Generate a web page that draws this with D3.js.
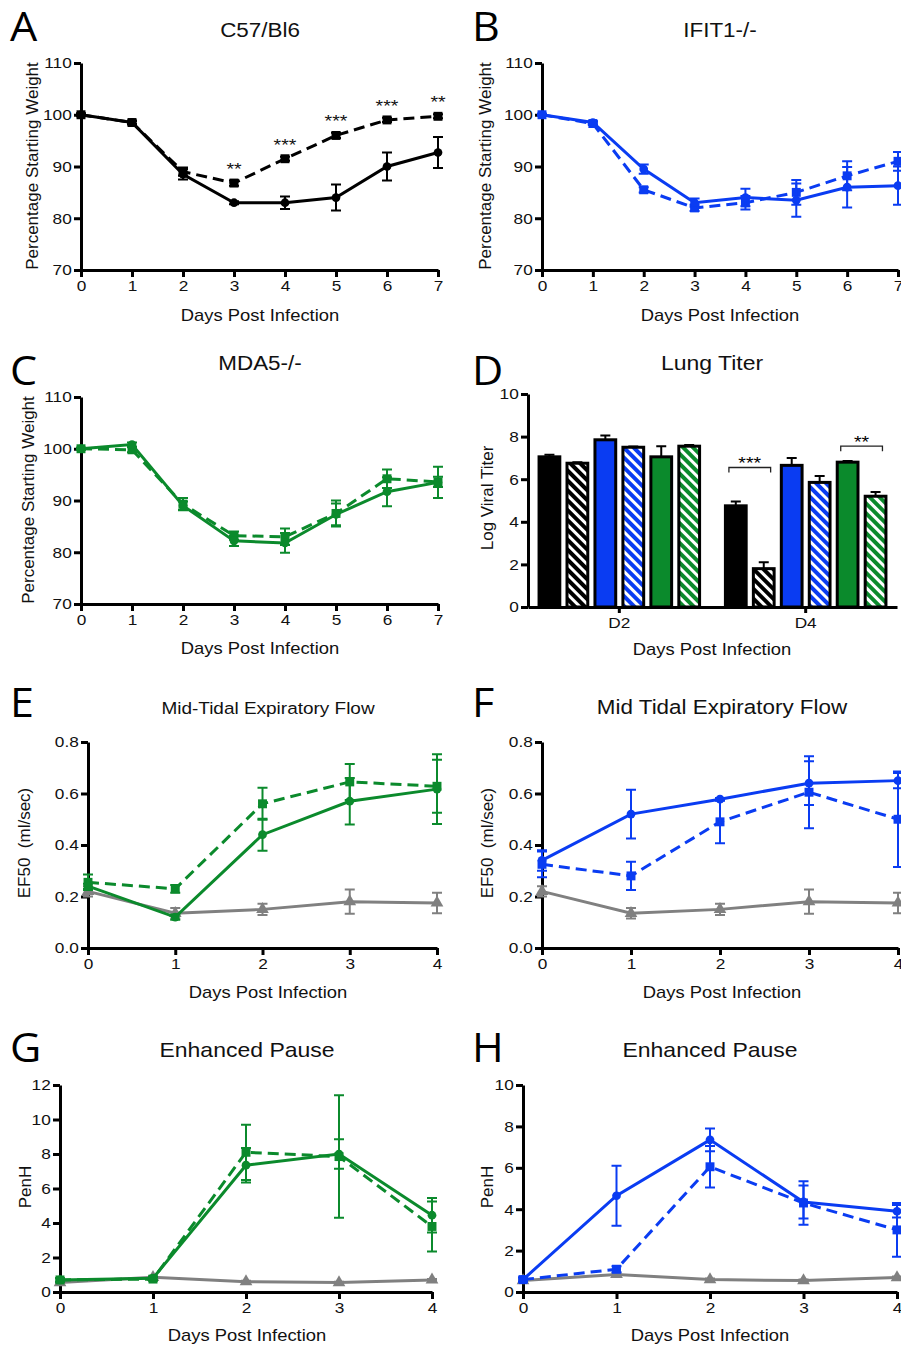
<!DOCTYPE html>
<html>
<head>
<meta charset="utf-8">
<script src="https://cdn.jsdelivr.net/npm/d3@7"></script>
<style>
  body { margin: 0; background: #fff; }
  svg { display: block; font-family: "Liberation Sans", Arial, sans-serif; }
</style>
</head>
<body>
<svg id="fig" width="901" height="1346"></svg>
<script>
// ---- data ----
const days7 = [0, 1, 2, 3, 4, 5, 6, 7];
const days4 = [0, 1, 2, 3, 4];

// A: C57/Bl6 weight
const aSolid = [100, 98.5, 88.5, 83, 83, 84, 90, 92.7];
const aSolidErr = [0.3, 0.4, 1.0, 0.3, 1.2, 2.5, 2.7, 3.0];
const aDash = [100, 98.5, 89, 86.8, 91.5, 96, 99, 99.7];
const aDashErr = [0.2, 0.3, 0.8, 0.5, 0.4, 0.5, 0.4, 0.4];
const aStars = ["", "", "", "**", "***", "***", "***", "**"];

// B: IFIT1-/- weight
const bSolid = [100, 98.5, 89.5, 83, 84, 83.5, 86, 86.3];
const bSolidErr = [0.2, 0.3, 0.9, 0.8, 1.7, 3.2, 3.9, 3.7];
const bDash = [100, 98.3, 85.5, 82, 83, 85, 88.2, 91];
const bDashErr = [0.2, 0.3, 0.5, 0.6, 1.3, 2.4, 2.8, 1.8];

// C: MDA5-/- weight
const cSolid = [100, 100.8, 89, 82.2, 81.8, 87.3, 91.7, 93.5];
const cSolidErr = [0.2, 0.4, 0.8, 1.0, 1.9, 2.1, 2.8, 3.0];
const cDash = [100, 99.8, 89.3, 83.2, 83.0, 87.5, 94.2, 93.6];
const cDashErr = [0.2, 0.5, 1.2, 0.8, 1.6, 2.5, 1.8, 1.0];

// D: lung titer
const titerGroups = ["D2", "D4"];
const titerBars = ["wt", "wtHatch", "ifit", "ifitHatch", "mda", "mdaHatch"];
const titerD2 = [7.05, 6.75, 7.85, 7.5, 7.05, 7.55];
const titerD2Err = [0.1, 0.05, 0.2, 0.04, 0.5, 0.06];
const titerD4 = [4.75, 1.8, 6.65, 5.85, 6.8, 5.2];
const titerD4Err = [0.2, 0.3, 0.35, 0.3, 0.05, 0.2];

// E/F: EF50
const mockEF50 = [0.22, 0.135, 0.15, 0.18, 0.175];
const mockEF50Err = [0.02, 0.02, 0.022, 0.047, 0.04];
const eSolid = [0.24, 0.12, 0.44, 0.57, 0.617];
const eSolidErr = [0.01, 0.01, 0.062, 0.09, 0.135];
const eDash = [0.255, 0.23, 0.56, 0.645, 0.628];
const eDashErr = [0.03, 0.015, 0.062, 0.07, 0.103];
const fSolid = [0.34, 0.52, 0.578, 0.64, 0.65];
const fSolidErr = [0.04, 0.095, 0.005, 0.085, 0.03];
const fDash = [0.325, 0.28, 0.49, 0.605, 0.5];
const fDashErr = [0.05, 0.055, 0.083, 0.14, 0.185];

// G/H: PenH
const mockPenH = [0.55, 0.85, 0.6, 0.55, 0.7];
const mockPenHErr = [0.05, 0.05, 0.05, 0.05, 0.05];
const gSolid = [0.7, 0.8, 7.35, 8.0, 4.45];
const gSolidErr = [0.1, 0.1, 1.0, 0.85, 1.0];
const gDash = [0.7, 0.75, 8.1, 7.85, 3.8];
const gDashErr = [0.1, 0.1, 1.6, 3.55, 1.45];
const hSolid = [0.6, 4.65, 7.35, 4.35, 3.9];
const hSolidErr = [0.1, 1.45, 0.55, 0.8, 0.3];
const hDash = [0.6, 1.1, 6.05, 4.3, 3.0];
const hDashErr = [0.1, 0.15, 1.0, 1.05, 1.3];

const BLACK = "#000", BLUE = "#0a3cf2", GREEN = "#0b8a2c", GRAY = "#808080";
const SX = 1.15; // the original figure is a little stretched sideways

const svg = d3.select("#fig");

function styleAxis(g) {
  g.attr("font-size", null).attr("font-family", null);
  g.select(".domain").attr("stroke", "#000").attr("stroke-width", 3);
  g.selectAll(".tick line").attr("stroke", "#000").attr("stroke-width", 3);
  g.selectAll(".tick text").attr("fill", "#111")
    .style("font-size", "15px").style("font-family", "'Liberation Sans', Arial, sans-serif")
    .attr("transform", `scale(${SX},1)`);
}

// horizontal text, stretched like the source
function wideText(x, y, size, str) {
  return svg.append("text")
    .attr("transform", `translate(${x},${y}) scale(${SX},1)`)
    .attr("text-anchor", "middle").style("font-size", size + "px")
    .attr("fill", "#111").text(str);
}

function header(o) {
  svg.append("text")
    .attr("transform", `translate(${o.letterX},${o.letterY}) scale(1.05,1)`)
    .style("font-family", "'Open Sans', sans-serif").style("font-size", "41px")
    .text(o.letter);
  wideText(o.titleX, o.titleY, o.titleSize || 19.5, o.title);
  wideText(o.titleX, o.xLabelY, 16, "Days Post Infection");
  svg.append("text")
    .attr("transform", `translate(${o.yLabelX},${o.yLabelY}) rotate(-90)`)
    .attr("text-anchor", "middle").style("font-size", "17px").attr("fill", "#111")
    .style("white-space", "pre")
    .text(o.yLabel);
}

function linePanel(o) {
  header(o);
  let x = d3.scaleLinear().domain([0, o.days.length - 1]).range([o.left, o.right]);
  let y = d3.scaleLinear().domain(o.yDomain).range([o.bottom, o.top]);

  svg.append("g").attr("transform", `translate(0,${o.bottom})`)
    .call(d3.axisBottom(x).tickValues(o.days).tickSize(7).tickSizeOuter(0).tickPadding(3).tickFormat(d3.format("d")))
    .call(styleAxis);
  svg.append("g").attr("transform", `translate(${o.left},0)`)
    .call(d3.axisLeft(y).tickValues(o.yTicks).tickSize(7).tickSizeOuter(0).tickPadding(1).tickFormat(o.fmt))
    .call(styleAxis);

  o.series.forEach(s => {
    let g = svg.append("g");
    let line = d3.line().x((d, i) => x(o.days[i])).y(d => y(d));
    g.append("path").datum(s.values)
      .attr("d", line).attr("fill", "none").attr("stroke", s.color)
      .attr("stroke-width", 3).attr("stroke-dasharray", s.dashed ? "11,6" : null);

    // error bars
    g.selectAll(".err").data(s.values).enter().append("path")
      .attr("d", (d, i) => {
        let cx = x(o.days[i]), lo = y(d - s.err[i]), hi = y(d + s.err[i]);
        return `M${cx},${lo}V${hi}M${cx - 5},${hi}H${cx + 5}M${cx - 5},${lo}H${cx + 5}`;
      })
      .attr("stroke", s.color).attr("stroke-width", 2).attr("fill", "none");

    let sym = d3.symbol().type(s.shape).size(s.shape === d3.symbolSquare ? 80 : s.shape === d3.symbolTriangle ? 70 : 60);
    g.selectAll(".mk").data(s.values).enter().append("path")
      .attr("transform", (d, i) => `translate(${x(o.days[i])},${y(d)})`)
      .attr("d", sym).attr("fill", s.color);

    if (s.stars) {
      g.selectAll(".star").data(s.values).enter().append("text")
        .attr("transform", (d, i) => `translate(${x(o.days[i])},${y(d) - 8}) scale(${SX},1)`)
        .attr("text-anchor", "middle").style("font-size", "17px").attr("fill", "#111")
        .text((d, i) => s.stars[i]);
    }
  });
}

const weightTicks = [70, 80, 90, 100, 110];
const efTicks = [0, 0.2, 0.4, 0.6, 0.8];

linePanel({
  letter: "A", letterX: 10, letterY: 41, title: "C57/Bl6", titleX: 260, titleY: 37,
  xLabelY: 321, yLabel: "Percentage Starting Weight", yLabelX: 38, yLabelY: 166,
  days: days7, left: 81, right: 438, top: 63, bottom: 270,
  yDomain: [70, 110], yTicks: weightTicks, fmt: d3.format("d"),
  series: [
    { values: aDash, err: aDashErr, color: BLACK, dashed: true, shape: d3.symbolSquare, stars: aStars },
    { values: aSolid, err: aSolidErr, color: BLACK, dashed: false, shape: d3.symbolCircle }
  ]
});

linePanel({
  letter: "B", letterX: 472, letterY: 41, title: "IFIT1-/-", titleX: 720, titleY: 37,
  xLabelY: 321, yLabel: "Percentage Starting Weight", yLabelX: 491, yLabelY: 166,
  days: days7, left: 542, right: 898, top: 63, bottom: 270,
  yDomain: [70, 110], yTicks: weightTicks, fmt: d3.format("d"),
  series: [
    { values: bDash, err: bDashErr, color: BLUE, dashed: true, shape: d3.symbolSquare },
    { values: bSolid, err: bSolidErr, color: BLUE, dashed: false, shape: d3.symbolCircle }
  ]
});

linePanel({
  letter: "C", letterX: 10, letterY: 385, title: "MDA5-/-", titleX: 260, titleY: 370,
  xLabelY: 654, yLabel: "Percentage Starting Weight", yLabelX: 34, yLabelY: 500,
  days: days7, left: 81, right: 438, top: 397, bottom: 604,
  yDomain: [70, 110], yTicks: weightTicks, fmt: d3.format("d"),
  series: [
    { values: cDash, err: cDashErr, color: GREEN, dashed: true, shape: d3.symbolSquare },
    { values: cSolid, err: cSolidErr, color: GREEN, dashed: false, shape: d3.symbolCircle }
  ]
});

// ---- D: bar chart ----
(function () {
  header({ letter: "D", letterX: 472, letterY: 385, title: "Lung Titer", titleSize: 20, titleX: 712, titleY: 370,
    xLabelY: 655, yLabel: "Log Viral Titer", yLabelX: 493, yLabelY: 498 });

  let x0 = d3.scaleBand().domain(titerGroups).range([528, 897]).paddingInner(0.1).paddingOuter(0.04);
  let x1 = d3.scaleBand().domain(titerBars).range([0, x0.bandwidth()]).paddingInner(0.15).paddingOuter(0.075);
  let y = d3.scaleLinear().domain([0, 10]).range([607, 394]);
  let fills = { wt: BLACK, ifit: BLUE, mda: GREEN };

  let defs = svg.append("defs");
  Object.entries(fills).forEach(([k, c]) => {
    let p = defs.append("pattern").attr("id", "hatch-" + k).attr("patternUnits", "userSpaceOnUse")
      .attr("width", 7).attr("height", 7).attr("patternTransform", "rotate(-45)");
    p.append("rect").attr("width", 7).attr("height", 7).attr("fill", c);
    p.append("rect").attr("x", 0).attr("width", 3).attr("height", 7).attr("fill", "#fff");
  });

  let rows = [
    { group: "D2", values: titerD2, err: titerD2Err },
    { group: "D4", values: titerD4, err: titerD4Err }
  ];
  rows.forEach(r => {
    let g = svg.append("g").attr("transform", `translate(${x0(r.group)},0)`);
    let bars = r.values.map((v, i) => ({ key: titerBars[i], v: v, e: r.err[i] }));
    // error bars (upper only)
    g.selectAll(".err").data(bars).enter().append("path")
      .attr("d", d => {
        let cx = x1(d.key) + x1.bandwidth() / 2;
        return `M${cx},${y(d.v)}V${y(d.v + d.e)}M${cx - 5},${y(d.v + d.e)}H${cx + 5}`;
      })
      .attr("stroke", "#000").attr("stroke-width", 2);
    g.selectAll("rect").data(bars).enter().append("rect")
      .attr("x", d => x1(d.key) + 1.5).attr("width", x1.bandwidth() - 3)
      .attr("y", d => y(d.v)).attr("height", d => y(0) - y(d.v))
      .attr("fill", d => d.key.endsWith("Hatch") ? `url(#hatch-${d.key.replace("Hatch", "")})` : fills[d.key])
      .attr("stroke", "#000").attr("stroke-width", 3);
  });

  svg.append("g").attr("transform", "translate(0,607)")
    .call(d3.axisBottom(x0).tickSize(6).tickSizeOuter(0).tickPadding(4))
    .call(styleAxis);
  svg.append("g").attr("transform", "translate(528,0)")
    .call(d3.axisLeft(y).tickValues([0, 2, 4, 6, 8, 10]).tickSize(7).tickSizeOuter(0).tickPadding(1))
    .call(styleAxis);

  // significance brackets at D4
  let sig = [
    { a: "wt", b: "wtHatch", level: 6.55, label: "***" },
    { a: "mda", b: "mdaHatch", level: 7.55, label: "**" }
  ];
  let gx = x0("D4");
  sig.forEach(s => {
    let xa = gx + x1(s.a) + 5, xb = gx + x1(s.b) + x1.bandwidth() - 5, yy = y(s.level);
    svg.append("path").attr("d", `M${xa},${yy + 5}V${yy}H${xb}V${yy + 5}`)
      .attr("fill", "none").attr("stroke", "#222").attr("stroke-width", 1.3);
    svg.append("text")
      .attr("transform", `translate(${(xa + xb) / 2},${yy + 2}) scale(${SX},1)`)
      .attr("text-anchor", "middle").style("font-size", "17px").text(s.label);
  });
})();

linePanel({
  letter: "E", letterX: 10, letterY: 717, title: "Mid-Tidal Expiratory Flow", titleSize: 16.5, titleX: 268, titleY: 714,
  xLabelY: 998, yLabel: "EF50  (ml/sec)", yLabelX: 30, yLabelY: 843,
  days: days4, left: 88, right: 437, top: 742, bottom: 948,
  yDomain: [0, 0.8], yTicks: efTicks, fmt: d3.format(".1f"),
  series: [
    { values: mockEF50, err: mockEF50Err, color: GRAY, dashed: false, shape: d3.symbolTriangle },
    { values: eDash, err: eDashErr, color: GREEN, dashed: true, shape: d3.symbolSquare },
    { values: eSolid, err: eSolidErr, color: GREEN, dashed: false, shape: d3.symbolCircle }
  ]
});

linePanel({
  letter: "F", letterX: 472, letterY: 717, title: "Mid Tidal Expiratory Flow", titleX: 722, titleY: 714,
  xLabelY: 998, yLabel: "EF50  (ml/sec)", yLabelX: 493, yLabelY: 843,
  days: days4, left: 542, right: 898, top: 742, bottom: 948,
  yDomain: [0, 0.8], yTicks: efTicks, fmt: d3.format(".1f"),
  series: [
    { values: mockEF50, err: mockEF50Err, color: GRAY, dashed: false, shape: d3.symbolTriangle },
    { values: fDash, err: fDashErr, color: BLUE, dashed: true, shape: d3.symbolSquare },
    { values: fSolid, err: fSolidErr, color: BLUE, dashed: false, shape: d3.symbolCircle }
  ]
});

linePanel({
  letter: "G", letterX: 10, letterY: 1062, title: "Enhanced Pause", titleSize: 20, titleX: 247, titleY: 1057,
  xLabelY: 1341, yLabel: "PenH", yLabelX: 31, yLabelY: 1187,
  days: days4, left: 60, right: 432, top: 1085, bottom: 1292,
  yDomain: [0, 12], yTicks: [0, 2, 4, 6, 8, 10, 12], fmt: d3.format("d"),
  series: [
    { values: mockPenH, err: mockPenHErr, color: GRAY, dashed: false, shape: d3.symbolTriangle },
    { values: gDash, err: gDashErr, color: GREEN, dashed: true, shape: d3.symbolSquare },
    { values: gSolid, err: gSolidErr, color: GREEN, dashed: false, shape: d3.symbolCircle }
  ]
});

linePanel({
  letter: "H", letterX: 472, letterY: 1062, title: "Enhanced Pause", titleSize: 20, titleX: 710, titleY: 1057,
  xLabelY: 1341, yLabel: "PenH", yLabelX: 493, yLabelY: 1187,
  days: days4, left: 523, right: 897, top: 1085, bottom: 1292,
  yDomain: [0, 10], yTicks: [0, 2, 4, 6, 8, 10], fmt: d3.format("d"),
  series: [
    { values: mockPenH, err: mockPenHErr, color: GRAY, dashed: false, shape: d3.symbolTriangle },
    { values: hDash, err: hDashErr, color: BLUE, dashed: true, shape: d3.symbolSquare },
    { values: hSolid, err: hSolidErr, color: BLUE, dashed: false, shape: d3.symbolCircle }
  ]
});
</script>
</body>
</html>
